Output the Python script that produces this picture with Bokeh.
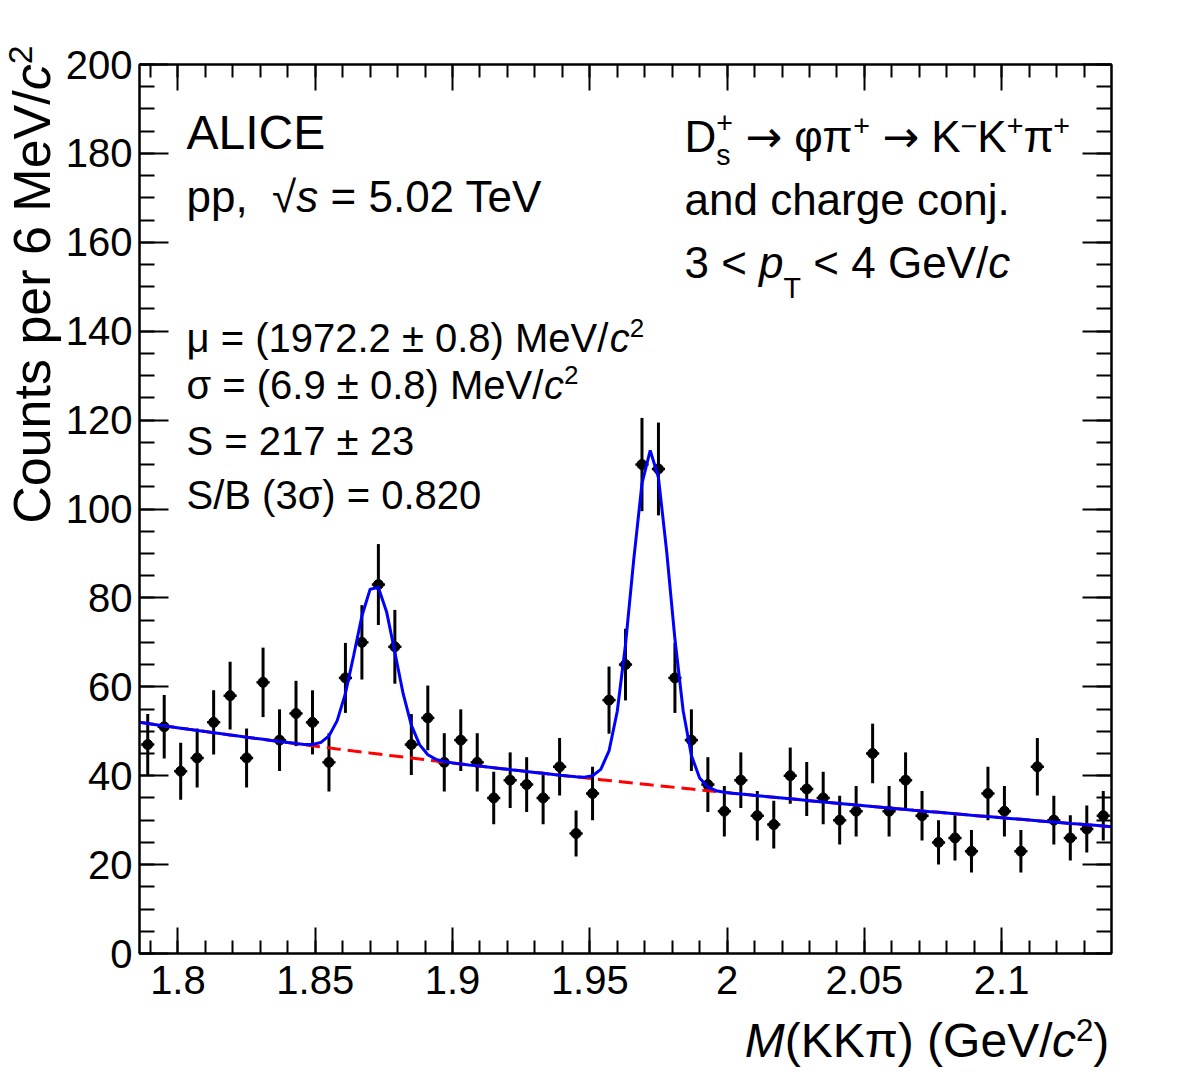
import numpy as np
from bokeh.plotting import figure
from bokeh.layouts import row, column
from bokeh.models import Label, FixedTicker, LinearAxis, Range1d, NumeralTickFormatter
from bokeh.embed import file_html
from bokeh.resources import INLINE

# ---------------------------------------------------------------- data
mass_lo, mass_hi = 1.786, 2.140          # GeV/c^2
bin_width = 0.006                        # 6 MeV/c^2 bins
counts = [47, 51, 41, 44, 52, 58, 44, 61, 48, 54, 52, 43, 62, 70, 83, 69, 47, 53,
          43, 48, 43, 35, 39, 38, 35, 42, 27, 36, 57, 65, 110, 109, 62, 48, 38, 32,
          39, 31, 29, 40, 37, 35, 30, 32, 45, 32, 39, 31, 25, 26, 23, 36, 32, 23,
          42, 30, 26, 28, 31]

# fit result: two Gaussians (D+ and Ds) on an exponential background
ds_mean, ds_sigma, ds_signal = 1.9722, 0.0069, 217
dplus_mean, dplus_sigma, dplus_amp = 1.8718, 0.0073, 38.0
bkg_norm, bkg_slope = 52.0, -1.695
fit_points = 119

x_ticks = [1.80, 1.85, 1.90, 1.95, 2.00, 2.05, 2.10]
y_ticks = list(range(0, 201, 20))

counts = np.array(counts, dtype=float)
centers = mass_lo + bin_width * (np.arange(len(counts)) + 0.5)
errors = np.sqrt(counts)


def background(m):
    return bkg_norm * np.exp(bkg_slope * (m - mass_lo))


def gauss(m, mu, sig):
    return np.exp(-0.5 * ((m - mu) / sig) ** 2)


ds_amp = ds_signal * bin_width / (ds_sigma * np.sqrt(2 * np.pi))
xf = np.linspace(mass_lo, mass_hi, fit_points)
bkg_curve = background(xf)
total_curve = bkg_curve + ds_amp * gauss(xf, ds_mean, ds_sigma) + dplus_amp * gauss(xf, dplus_mean, dplus_sigma)

# ---------------------------------------------------------------- page geometry
W, H = 1182, 1082
LEFT_W = 62            # strip holding the y-axis title
MAIN_H = 1011          # main plot height; x-axis title strip below
FL, FR, FT, FB = 139, 1111, 64, 953
y_lo, y_hi = 0, 200
SX = (FR - FL) / (mass_hi - mass_lo)
SY = (FB - FT) / (y_hi - y_lo)

FONT = "Liberation Sans"
ARROW_FONT = "DejaVu Sans"
BASE_FIX = 0.37        # baseline correction for Label text, in em
SUP_RISE = 0.36        # superscript raise, in em

p = figure(width=W - LEFT_W, height=MAIN_H, output_backend="svg", toolbar_location=None,
           x_range=Range1d(mass_lo, mass_hi), y_range=Range1d(y_lo, y_hi),
           min_border_left=FL - LEFT_W, min_border_right=W - FR,
           min_border_top=FT, min_border_bottom=MAIN_H - FB)
p.background_fill_color = "white"
p.border_fill_color = "white"
p.xgrid.grid_line_color = None
p.ygrid.grid_line_color = None
p.outline_line_color = "black"
p.outline_line_width = 2

x_minor = [round(1.79 + 0.01 * i, 3) for i in range(35)]
y_minor = list(range(0, 201, 5))


def style_axis(ax, tick_in, minor_in, labels):
    ax.axis_line_width = 2
    ax.axis_line_color = "black"
    ax.major_tick_in = tick_in
    ax.major_tick_out = 0
    ax.minor_tick_in = minor_in
    ax.minor_tick_out = 0
    ax.major_tick_line_width = 2
    ax.minor_tick_line_width = 2
    ax.major_tick_line_color = "black"
    ax.minor_tick_line_color = "black"
    if labels:
        ax.major_label_text_font = FONT
        ax.major_label_text_font_size = "40px"
        ax.major_label_text_color = "black"
    else:
        ax.major_label_text_color = None
        ax.major_label_text_font_size = "1px"


p.xaxis.ticker = FixedTicker(ticks=x_ticks, minor_ticks=x_minor)
p.xaxis.formatter = NumeralTickFormatter(format="0.[00]")
style_axis(p.xaxis[0], 26, 13, True)
p.xaxis.major_label_standoff = 12

p.yaxis.ticker = FixedTicker(ticks=y_ticks, minor_ticks=y_minor)
style_axis(p.yaxis[0], 29, 15, True)
p.yaxis.major_label_standoff = 7

top_ax = LinearAxis(ticker=FixedTicker(ticks=x_ticks, minor_ticks=x_minor))
style_axis(top_ax, 26, 13, False)
p.add_layout(top_ax, "above")
right_ax = LinearAxis(ticker=FixedTicker(ticks=y_ticks, minor_ticks=y_minor))
style_axis(right_ax, 29, 15, False)
p.add_layout(right_ax, "right")

# ---------------------------------------------------------------- data points
p.segment(x0=centers, y0=counts - errors, x1=centers, y1=counts + errors,
          line_color="black", line_width=3)
p.segment(x0=centers - 0.4 * bin_width, y0=counts, x1=centers + 0.4 * bin_width, y1=counts,
          line_color="black", line_width=2.5)
p.scatter(centers, counts, size=10, color="black")

# fit curves
p.line(xf, bkg_curve, line_color="#ff0000", line_width=3, line_dash="14 7")
p.line(xf, total_curve, line_color="#0000ff", line_width=3)

# ---------------------------------------------------------------- title strips
def blank(width, height, xr, yr):
    f = figure(width=width, height=height, output_backend="svg", toolbar_location=None,
               x_range=Range1d(*xr), y_range=Range1d(*yr), title=None,
               x_axis_type=None, y_axis_type=None,
               min_border_left=0, min_border_right=0, min_border_top=0, min_border_bottom=0)
    f.outline_line_color = None
    f.xgrid.grid_line_color = None
    f.ygrid.grid_line_color = None
    f.background_fill_color = "white"
    f.border_fill_color = "white"
    return f


left_strip = blank(LEFT_W, H, (0, LEFT_W), (H, 0))
bottom_strip = blank(W - LEFT_W, H - MAIN_H, (LEFT_W, W), (H, MAIN_H))

# ---------------------------------------------------------------- text helpers
ADV = {' ': .278, '(': .333, ')': .333, '+': .584, ',': .278, '-': .333, '.': .278,
       '/': .278, '<': .584, '=': .584, '>': .584, '±': .584, 'μ': .576, 'σ': .60,
       'π': .68, 'φ': .66, '→': .838, '−': .584, '√': .549,
       'A': .667, 'B': .667, 'C': .722, 'D': .722, 'E': .667, 'G': .778, 'I': .278,
       'K': .667, 'L': .556, 'M': .833, 'S': .667, 'T': .611, 'V': .667,
       'a': .556, 'c': .5, 'd': .556, 'e': .556, 'g': .556, 'h': .556, 'i': .222,
       'j': .222, 'n': .556, 'o': .556, 'p': .556, 'r': .333, 's': .5, 't': .278,
       'u': .556, 'v': .5}


def adv(s, size):
    return sum(ADV.get(ch, .556) for ch in s) * size


def px_x(px):
    return mass_lo + (px - FL) / SX


def px_y(py):
    return y_lo + (FB - py) / SY


def piece_items(txt, role, size):
    small = 0.65 * size
    if role == "supsub":
        items = [(txt[0], small, 0.42 * size), (txt[1], small, -0.30 * size)]
        step = max(adv(txt[0], small), adv(txt[1], small))
    elif role == "sup":
        items = [(txt, small, SUP_RISE * size)]
        step = adv(txt, small)
    elif role == "sub":
        items = [(txt, small, -0.45 * size)]
        step = adv(txt, small)
    else:
        items = [(txt, size, 0.0)]
        step = adv(txt, size)
    return items, step


def rich(fig, x0, y0, pieces, size, angle=0.0):
    """Lay out a line of mixed-style text starting at (x0, y0) on the baseline."""
    pos = 0.0
    for piece in pieces:
        txt, style, role = piece[:3]
        font = piece[3] if len(piece) > 3 else FONT
        items, step = piece_items(txt, role, size)
        for t, sz, rise in items:
            lead = adv(t[:len(t) - len(t.lstrip(' '))], sz)
            body = t.strip(' ')
            rise = rise + BASE_FIX * sz
            if angle:
                xo, yo = -rise, pos + lead
            else:
                xo, yo = pos + lead, rise
            fig.add_layout(Label(x=x0, y=y0, x_offset=xo, y_offset=yo, text=body,
                                 text_font=font, text_font_size=f"{sz:.1f}px",
                                 text_font_style=style, text_color="black",
                                 text_align="left", text_baseline="alphabetic",
                                 angle=angle))
        pos += step
    return pos


def rich_width(pieces, size):
    return sum(piece_items(pc[0], pc[2], size)[1] for pc in pieces)


# ---------------------------------------------------------------- axis titles
xtitle = [("M", "italic", "n"), ("(KKπ) (GeV/", "normal", "n"), ("c", "italic", "n"),
          ("2", "normal", "sup"), (")", "normal", "n")]
xt_size = 48
rich(bottom_strip, 1124 - rich_width(xtitle, xt_size), 1058, xtitle, xt_size)

ytitle = [("Counts per 6 MeV/", "normal", "n"), ("c", "italic", "n"), ("2", "normal", "sup")]
yt_size = 52
rich(left_strip, 51, 45 + rich_width(ytitle, yt_size), ytitle, yt_size, angle=np.pi / 2)

# ---------------------------------------------------------------- annotations
def note(x_px, base_px, pieces, size):
    rich(p, px_x(x_px), px_y(base_px), pieces, size)


note(186, 150, [("ALICE", "normal", "n")], 48)
note(186, 212, [("pp,  ", "normal", "n"), ("√", "normal", "n"), ("s", "italic", "n"),
                (" = 5.02 TeV", "normal", "n")], 44)

note(684, 152, [("D", "normal", "n"), (("+", "s"), "normal", "supsub"),
                (" →", "normal", "n", ARROW_FONT), (" φπ", "normal", "n"),
                ("+", "normal", "sup"),
                (" →", "normal", "n", ARROW_FONT), (" K", "normal", "n"),
                ("−", "normal", "sup"),
                ("K", "normal", "n"), ("+", "normal", "sup"),
                ("π", "normal", "n"), ("+", "normal", "sup")], 44)
note(684, 215, [("and charge conj.", "normal", "n")], 44)
note(684, 278, [("3 < ", "normal", "n"), ("p", "italic", "n"), ("T", "normal", "sub"),
                (" < 4 GeV/", "normal", "n"), ("c", "italic", "n")], 44)

fs = 40
note(186, 352, [("μ = (1972.2 ± 0.8) MeV/", "normal", "n"), ("c", "italic", "n"),
                ("2", "normal", "sup")], fs)
note(186, 399, [("σ = (6.9 ± 0.8) MeV/", "normal", "n"), ("c", "italic", "n"),
                ("2", "normal", "sup")], fs)
note(186, 455, [("S = 217 ± 23", "normal", "n")], fs)
note(186, 509, [("S/B (3σ) = 0.820", "normal", "n")], fs)

page = row(left_strip, column(p, bottom_strip, spacing=0), spacing=0)
open("out.html", "w").write(file_html(page, INLINE))
